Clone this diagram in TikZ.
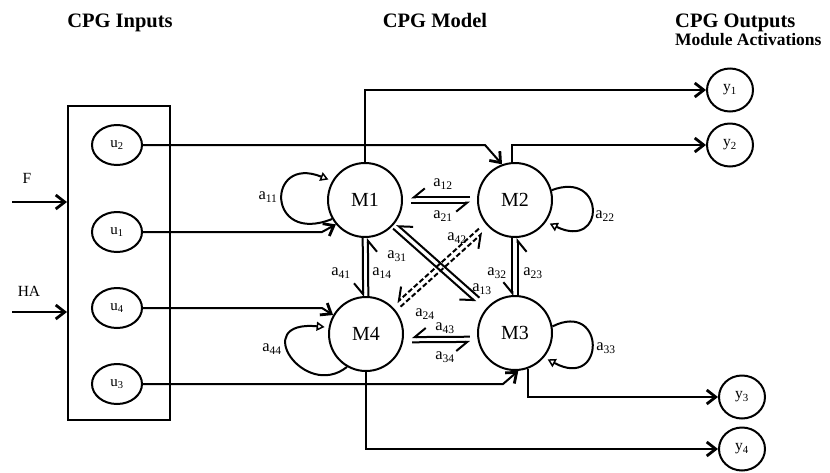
\documentclass[tikz,border=0pt]{standalone}
\usepackage{fontspec}
\setmainfont{Liberation Serif}
\usetikzlibrary{arrows.meta,calc,shapes.geometric}
\begin{document}
\begin{tikzpicture}[x=1pt,y=-1pt,
  lw/.style={line width=2pt},
  mod/.style={draw, lw, circle, minimum size=74pt, inner sep=0pt, font=\fontsize{20}{22}\selectfont},
  inp/.style={draw, lw, ellipse, minimum width=50pt, minimum height=40pt, inner sep=0pt, font=\fontsize{15}{17}\selectfont},
  outp/.style={draw, lw, ellipse, minimum width=46pt, minimum height=43pt, inner sep=0pt, font=\fontsize{15.5}{17}\selectfont},
  lab/.style={inner sep=0pt, font=\fontsize{16.5}{18}\selectfont},
  ttl/.style={inner sep=0pt, font=\fontsize{20.5}{22}\selectfont\bfseries},
  arr/.style={lw, -{Straight Barb[length=9pt, width=14pt, line width=2.8pt]}},
  harp/.style={lw, -{Straight Barb[right, length=11pt, width=18pt, line width=2pt]}},
  dsh/.style={dash pattern=on 5pt off 2.5pt},
  loopst/.style={lw, -{Triangle[open, length=8pt, width=9pt, line width=1.5pt]}, shorten >=4pt},
]
\useasboundingbox (0,0) rectangle (830,472);

% titles
\node[ttl, anchor=base] (t1) at (120,27) {CPG Inputs};
\node[ttl, anchor=base] (t2) at (435,27) {CPG Model};
\node[ttl, anchor=base west] (t3) at (675,27) {CPG Outputs};
\node[inner sep=0pt, anchor=base west, font=\fontsize{17.5}{19}\selectfont\bfseries] (t4) at (675,45) {Module Activations};

% input box
\node[draw, lw, minimum width=102pt, minimum height=314pt, inner sep=0pt] (box) at (119,263) {};
\node[inp] (u2) at (117,145) {u\textsubscript{2}};
\node[inp] (u1) at (117,232) {u\textsubscript{1}};
\node[inp] (u4) at (117,308) {u\textsubscript{4}};
\node[inp] (u3) at (117,384) {u\textsubscript{3}};

\node[lab, font=\fontsize{15.5}{17}\selectfont] (F) at (27,178) {F};
\node[lab, font=\fontsize{15.5}{17}\selectfont] (HA) at (29,291) {HA};
\coordinate (fin) at (12,202);
\coordinate (hain) at (12,312);
\draw[arr, line width=2.8pt] (fin) -- (box.west |- fin);
\draw[arr, line width=2.8pt] (hain) -- (box.west |- hain);

% modules
\node[mod] (M1) at (365,200) {M1};
\node[mod] (M2) at (515,200) {M2};
\node[mod] (M3) at (515,333) {M3};
\node[mod] (M4) at (366,334) {M4};
\coordinate (M4low) at ([yshift=-6pt]M4.center);
\coordinate (M3low) at ([yshift=-6pt]M3.center);

% outputs
\node[outp] (y1) at (730,90) {y\textsubscript{1}};
\node[outp] (y2) at (730,145) {y\textsubscript{2}};
\node[outp] (y3) at (742,397) {y\textsubscript{3}};
\node[outp] (y4) at (742,449) {y\textsubscript{4}};

% inputs to modules
\draw[arr] (u2.east) -- (485,145) -- (M2.110);
\draw[arr] (u1.east) -- (322,232) -- (M1.220);
\draw[arr] (u4.east) -- (322,308) -- (M4.150);
\draw[arr] (u3.east) -- (503,384) -- (M3.-85);

% modules to outputs
\draw[arr] (M1.north) |- (y1.west);
\draw[arr] (M2.95) |- (y2.west);
\draw[arr] (M3.-70) |- (y3.west);
\draw[arr] (M4.south) |- (y4.west);

% self loops
\draw[loopst] (M1.210) .. controls +(-66,26.5) and +(-66,-26.5) .. (M1.150);
\draw[loopst] (M2.15) .. controls +(54.3,-20.4) and +(59.7,28.8) .. (M2.-35);
\draw[loopst] (M3.10) .. controls +(53.6,-26.6) and +(61.7,33.2) .. (M3.-40);
\draw[loopst] (M4.240) .. controls +(-42.5,34) and +(-79.6,-7.6) .. (M4.170);

% coupling pairs (each arrow keeps to its right, barb outside)
\draw[harp, shorten <=46pt, shorten >=45pt] ($(M1)!2.6pt!-90:(M2)$) -- ($(M2)!2.6pt!90:(M1)$);
\draw[harp, shorten <=45pt, shorten >=46pt] ($(M2)!2.6pt!-90:(M1)$) -- ($(M1)!2.6pt!90:(M2)$);
\draw[harp, shorten <=46pt, shorten >=45pt] ($(M4low)!2.6pt!-90:(M3low)$) -- ($(M3low)!2.6pt!90:(M4low)$);
\draw[harp, shorten <=45pt, shorten >=46pt] ($(M3low)!2.6pt!-90:(M4low)$) -- ($(M4low)!2.6pt!90:(M3low)$);
\draw[harp, shorten <=38pt, shorten >=37pt] ($(M1)!2.6pt!-90:(M4)$) -- ($(M4)!2.6pt!90:(M1)$);
\draw[harp, shorten <=37pt, shorten >=38pt] ($(M4)!2.6pt!-90:(M1)$) -- ($(M1)!2.6pt!90:(M4)$);
\draw[harp, shorten <=38pt, shorten >=37pt] ($(M2)!2.6pt!-90:(M3)$) -- ($(M3)!2.6pt!90:(M2)$);
\draw[harp, shorten <=37pt, shorten >=38pt] ($(M3)!2.6pt!-90:(M2)$) -- ($(M2)!2.6pt!90:(M3)$);
\draw[harp, shorten <=40pt, shorten >=50pt] ($(M1)!2.8pt!-90:(M3)$) -- ($(M3)!2.8pt!90:(M1)$);
\draw[harp, shorten <=50pt, shorten >=40pt] ($(M3)!2.8pt!-90:(M1)$) -- ($(M1)!2.8pt!90:(M3)$);
\draw[harp, dsh, shorten <=46pt, shorten >=44pt] ($(M2)!2.8pt!-90:(M4)$) -- ($(M4)!2.8pt!90:(M2)$);
\draw[harp, dsh, shorten <=44pt, shorten >=46pt] ($(M4)!2.8pt!-90:(M2)$) -- ($(M2)!2.8pt!90:(M4)$);

% coefficient labels
\node[lab] (a11) at (268,197) {a\textsubscript{11}};
\node[lab] (a12) at (443,184) {a\textsubscript{12}};
\node[lab] (a21) at (443,216) {a\textsubscript{21}};
\node[lab] (a22) at (605,216) {a\textsubscript{22}};
\node[lab] (a41) at (341,273) {a\textsubscript{41}};
\node[lab] (a14) at (382,273) {a\textsubscript{14}};
\node[lab] (a31) at (397,256) {a\textsubscript{31}};
\node[lab] (a42) at (457,238) {a\textsubscript{42}};
\node[lab] (a13) at (482,289) {a\textsubscript{13}};
\node[lab] (a24) at (425,314) {a\textsubscript{24}};
\node[lab] (a32) at (497,273) {a\textsubscript{32}};
\node[lab] (a23) at (533,273) {a\textsubscript{23}};
\node[lab] (a43) at (445,328) {a\textsubscript{43}};
\node[lab] (a34) at (445,357) {a\textsubscript{34}};
\node[lab] (a44) at (272,349) {a\textsubscript{44}};
\node[lab] (a33) at (606,348) {a\textsubscript{33}};
\end{tikzpicture}
\end{document}
